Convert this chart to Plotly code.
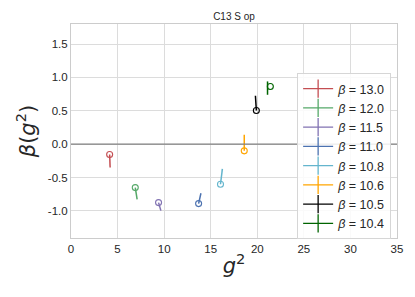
import plotly.graph_objects as go

# data
betas = ["13.0", "12.0", "11.5", "11.0", "10.8", "10.6", "10.5", "10.4"]
colors = ["#c44e52", "#55a868", "#8172b2", "#4c72b0", "#64b5cd", "orange", "black", "darkgreen"]
g2 = [4.15, 6.9, 9.4, 13.7, 16.05, 18.6, 19.9, 21.4]
beta_g2 = [-0.155, -0.65, -0.875, -0.89, -0.6, -0.1, 0.505, 0.865]
# short tail segments attached to each point (start, end)
tail_x0 = [4.15, 6.9, 9.4, 13.7, 16.05, 18.6, 19.9, 21.1]
tail_y0 = [-0.155, -0.65, -0.875, -0.89, -0.6, -0.1, 0.505, 0.94]
tail_x1 = [4.2, 7.1, 9.65, 13.95, 16.25, 18.6, 19.8, 21.1]
tail_y1 = [-0.35, -0.825, -0.995, -0.735, -0.37, 0.14, 0.725, 0.74]

x_ticks = [0, 5, 10, 15, 20, 25, 30, 35]
y_ticks = [-1.0, -0.5, 0.0, 0.5, 1.0, 1.5]

FONT = "Liberation Sans, Arial, sans-serif"

fig = go.Figure()

for i, b in enumerate(betas):
    c = colors[i]
    fig.add_trace(go.Scatter(
        x=[tail_x0[i], tail_x1[i]], y=[tail_y0[i], tail_y1[i]],
        mode="lines", line=dict(color=c, width=1.5), showlegend=False, hoverinfo="skip"))
    fig.add_trace(go.Scatter(
        x=[g2[i]], y=[beta_g2[i]], mode="markers",
        marker=dict(symbol="circle-open", size=6, color=c, line=dict(width=1.1, color=c)),
        showlegend=False))
    # legend entry (line with vertical error bar look)
    fig.add_trace(go.Scatter(
        x=[None], y=[None], mode="lines+markers",
        line=dict(color=c, width=1.3),
        marker=dict(symbol="line-ns-open", size=13, color=c, line=dict(width=1.3, color=c)),
        name="<i>β</i> = " + b))

fig.add_shape(type="line", xref="paper", x0=0, x1=1, yref="y", y0=0, y1=0,
              line=dict(color="#808080", width=1.2), layer="above")

axis_common = dict(showgrid=True, gridcolor="#dcdcdc", gridwidth=1, zeroline=False,
                   showline=True, linecolor="#cccccc", linewidth=1, mirror=True,
                   ticks="", automargin=False,
                   tickfont=dict(family=FONT, size=11.5, color="#262626"))

# page body adds an 8px offset, so the figure is sized to fit the 415x297 window
fig.update_layout(
    width=407, height=289,
    paper_bgcolor="white", plot_bgcolor="white",
    margin=dict(l=63, r=18, t=16, b=59, autoexpand=False),
    title=dict(text="C13 S op", x=0.5, xanchor="center", xref="paper", y=0.969, yanchor="middle",
               font=dict(family=FONT, size=10, color="#262626")),
    xaxis=dict(range=[0, 35], tickvals=x_ticks, ticktext=[str(v) for v in x_ticks],
               title=dict(text="<i>g</i><sup>2</sup>", font=dict(family="DejaVu Sans", size=21, color="#262626"), standoff=4),
               **axis_common),
    yaxis=dict(range=[-1.405, 1.8], tickvals=y_ticks, ticktext=[f"{v:.1f}" for v in y_ticks],
               title=dict(text="<i>β</i>(<i>g</i><sup>2</sup>)", font=dict(family="DejaVu Sans", size=21, color="#262626"), standoff=6),
               **axis_common),
    legend=dict(x=0.982, xanchor="right", y=0.771, yanchor="top",
                bgcolor="rgba(255,255,255,0.85)", bordercolor="#d6d6d6", borderwidth=1,
                font=dict(family=FONT, size=12.5, color="#262626"),
                itemwidth=30, tracegroupgap=0),
    showlegend=True,
)

fig.write_html("out.html")
